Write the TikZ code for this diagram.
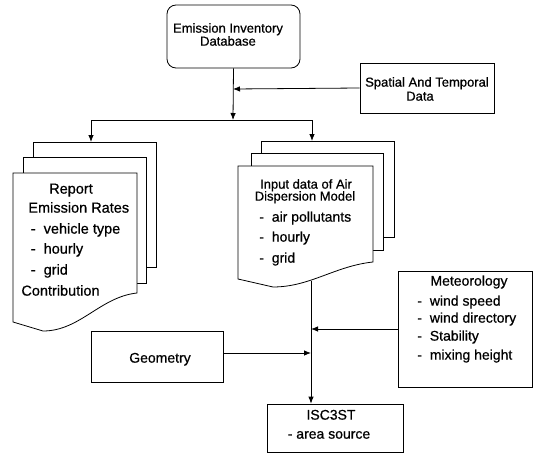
\documentclass[tikz,border=0pt]{standalone}
\usepackage{fontspec}
\setmainfont{Liberation Sans}[FakeBold=0.6,UprightFeatures={FakeBold=0.6}]
\usetikzlibrary{arrows.meta}
\begin{document}
\begin{tikzpicture}[x=1pt,y=-1pt,
  line width=0.8pt,
  arr/.style={-{Latex[length=7pt,width=5.5pt]}},
  box/.style={draw,fill=white,inner sep=0pt,align=center},
  page/.style={draw,fill=white,line join=miter},
  fA/.style={font=\fontsize{13}{13}\selectfont},
  fB/.style={font=\fontsize{14}{14}\selectfont},
  fC/.style={font=\fontsize{14.5}{14.5}\selectfont},
  tl/.style={inner sep=0pt,anchor=mid west},
  tc/.style={inner sep=0pt,anchor=mid}]
\useasboundingbox (0,0) rectangle (536,463);
\fill[white] (0,0) rectangle (536,463);

% top database box
\node[box,rounded corners=9pt,minimum width=133pt,minimum height=63pt] (db) at (233.5,36.5) {};
\node[tc,fA] (db1) at (228,30) {Emission Inventory};
\node[tc,fA] (db2) at (228,43) {Database};
% spatial box
\node[box,minimum width=134pt,minimum height=50pt] (sp) at (427,88) {};
\node[tc,fA] (sp1) at (427,84) {Spatial And Temporal};
\node[tc,fA] (sp2) at (420,98) {Data};

% junctions
\coordinate (j1) at (233,89);
\coordinate (j2) at (233,120);
\coordinate (jl) at (91,120);
\coordinate (jr) at (312,120);
\coordinate (rtop) at (91,142);
\coordinate (itop) at (312,141);

% left stack (Report)
\draw[page] (33,142) rectangle (156,267);
\draw[page] (23,157) rectangle (146,283);
\draw[page] (13,173) -- (137,173) -- (137,293)
  .. controls (100,297) and (80,331) .. (43,331) -- (13,322) -- cycle;
\node[tc,fC] (r1) at (71,191) {Report};
\node[tl,fC] (r2) at (28,210) {Emission Rates};
\node[tl,fC] (r3) at (28,231) {\,-\; vehicle type};
\node[tl,fC] (r4) at (28,251) {\,-\; hourly};
\node[tl,fC] (r5) at (28,272) {\,-\; grid};
\node[tl,fC] (r6) at (21,293) {Contribution};

% right stack (Input data)
\draw[page] (261,141) rectangle (394,237);
\draw[page] (251,153) rectangle (383,250);
\draw[page] (238,166) -- (373,166) -- (373,262)
  .. controls (335,266) and (310,287) .. (273,287) -- (238,279) -- cycle;
\node[tc,fA] (i1) at (306,186) {Input data of Air};
\node[tc,fA] (i2) at (305,198) {Dispersion Model};
\node[tl,fB] (i3) at (259,219) {-\; air pollutants};
\node[tl,fB] (i4) at (259,239) {-\; hourly};
\node[tl,fB] (i5) at (259,260) {-\; grid};
\coordinate (iout) at (311,280.5);

% meteorology box
\node[box,minimum width=134pt,minimum height=116pt] (met) at (465,329) {};
\node[tc,fB] (m1) at (469,283) {Meteorology};
\node[tl,fB] (m2) at (417,303) {-\; wind speed};
\node[tl,fB] (m3) at (417,320) {-\; wind directory};
\node[tl,fB] (m4) at (417,338) {-\; Stability};
\node[tl,fB] (m5) at (417,357) {-\; mixing height};

% geometry box
\node[box,minimum width=132pt,minimum height=51pt] (geo) at (157,356.5) {};
\node[tc,fB] (g1) at (160,360) {Geometry};
\coordinate (gout) at (223,353);
\coordinate (j3) at (311,329);
\coordinate (j4) at (311,353);

% ISC3ST box
\node[box,minimum width=136pt,minimum height=48pt] (isc) at (335,428) {};
\node[tc,fB] (s1) at (331,417) {ISC3ST};
\node[tc,fB] (s2) at (329,436) {- area source};

% connectors
\draw[arr] (db.south) -- (j2);
\draw[arr] (sp.west) -- (j1);
\draw (jl) -- (jr);
\draw[arr] (jl) -- (rtop);
\draw[arr] (jr) -- (itop);
\draw[arr] (iout) -- (isc.north -| iout);
\draw[arr] (met.west |- j3) -- (j3);
\draw[arr] (gout) -- (j4);
\end{tikzpicture}
\end{document}
